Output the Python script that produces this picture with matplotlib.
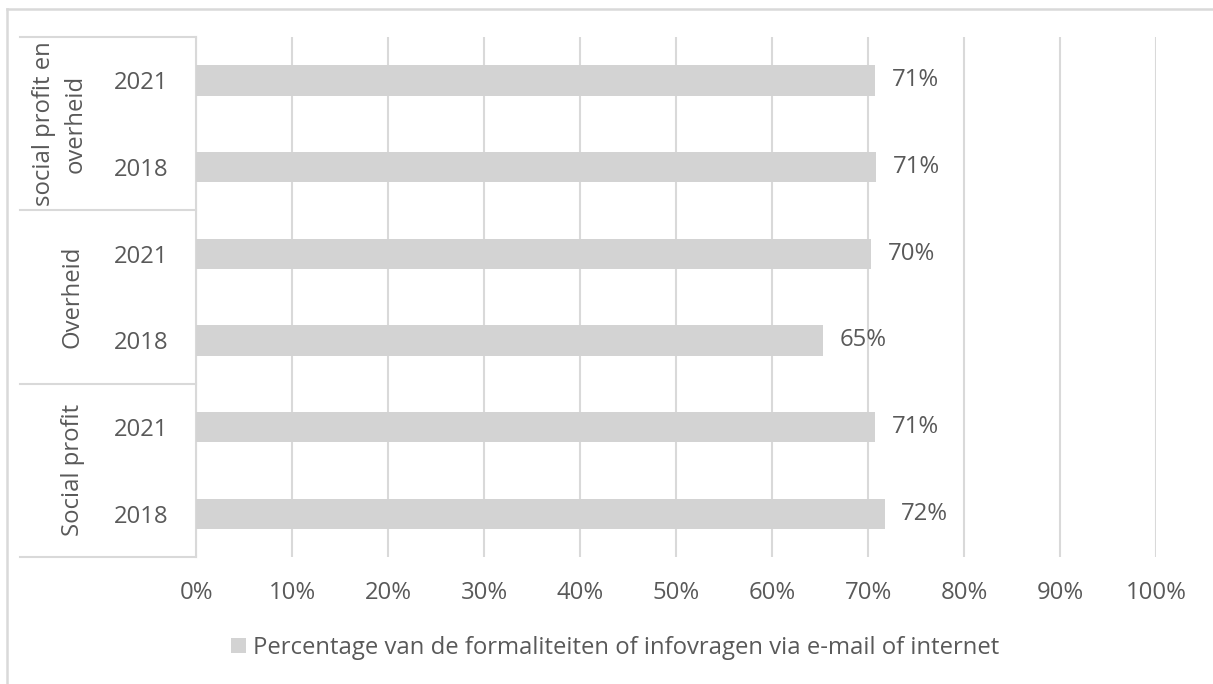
import matplotlib
matplotlib.use("Agg")
import matplotlib.pyplot as plt
from matplotlib.patches import Patch
from matplotlib.lines import Line2D
import matplotlib.transforms as mtransforms

plt.rcParams['font.family'] = ['Open Sans', 'DejaVu Sans']

# Data (bottom to top)
groups = ["Social profit", "Overheid", "social profit en\noverheid"]
years = ["2018", "2021", "2018", "2021", "2018", "2021"]
values = [0.717, 0.707, 0.653, 0.703, 0.708, 0.707]
series_name = "Percentage van de formaliteiten of infovragen via e-mail of internet"
xticks = [i / 10 for i in range(11)]

TEXT = "#595959"
BAR = "#D3D3D3"
LINE = "#D9D9D9"
FS = 17.2

W, H, DPI = 1213, 684, 100
fig = plt.figure(figsize=(W / DPI, H / DPI), dpi=DPI)

def fx(px):
    return px / W

def fy(py):
    return 1 - py / H

ax = fig.add_axes([fx(196.3), fy(557), fx(1156.3) - fx(196.3), fy(37) - fy(557)])

ypos = list(range(len(values)))
ax.barh(ypos, values, height=0.35, color=BAR, zorder=3)

ax.set_xlim(0, 1)
ax.set_ylim(-0.5, len(values) - 0.5)
ax.set_xticks(xticks, labels=[f"{t:.0%}" for t in xticks])
ax.grid(axis="x", color=LINE, linewidth=1.5, zorder=0)
ax.tick_params(axis="x", length=0, pad=17, labelsize=FS, labelcolor=TEXT)

ax.set_yticks(ypos, labels=years)
ax.tick_params(axis="y", length=0, pad=39.5, labelsize=FS, labelcolor=TEXT)
for lab in ax.get_yticklabels():
    lab.set_horizontalalignment("center")

for side in ("top", "right", "bottom"):
    ax.spines[side].set_visible(False)
ax.spines["left"].set_color(LINE)
ax.spines["left"].set_linewidth(1.5)

# Value labels
for y, v in zip(ypos, values):
    ax.annotate(f"{v:.0%}", xy=(v, y), xytext=(12, 0), textcoords="offset points",
                va="center", ha="left", fontsize=FS, color=TEXT)

# Group separators and group labels on the category axis
trans = mtransforms.blended_transform_factory(fig.transFigure, ax.transData)
for b in [-0.5, 1.5, 3.5, 5.5]:
    ax.add_line(Line2D([fx(20), fx(196)], [b, b], transform=trans, color=LINE,
                       linewidth=1.5, clip_on=False))
for i, g in enumerate(groups):
    ax.text(fx(60) if "\n" in g else fx(73), 2 * i + 0.5, g, transform=trans,
            rotation=90, ha="center", va="center", fontsize=FS, color=TEXT,
            linespacing=1.4, multialignment="center")

# Chart frame
fig.add_artist(Line2D([fx(7), fx(7)], [fy(9), 0], color=LINE, linewidth=1.8))
fig.add_artist(Line2D([fx(7), 1], [fy(9), fy(9)], color=LINE, linewidth=1.8))

# Legend
handle = Patch(facecolor=BAR, edgecolor="none")
fig.legend([handle], [series_name], loc="center", bbox_to_anchor=(fx(615), fy(648)),
           frameon=False, fontsize=FS, labelcolor=TEXT, handlelength=0.63,
           handleheight=0.6, handletextpad=0.3)

fig.savefig("out.png", dpi=DPI)
